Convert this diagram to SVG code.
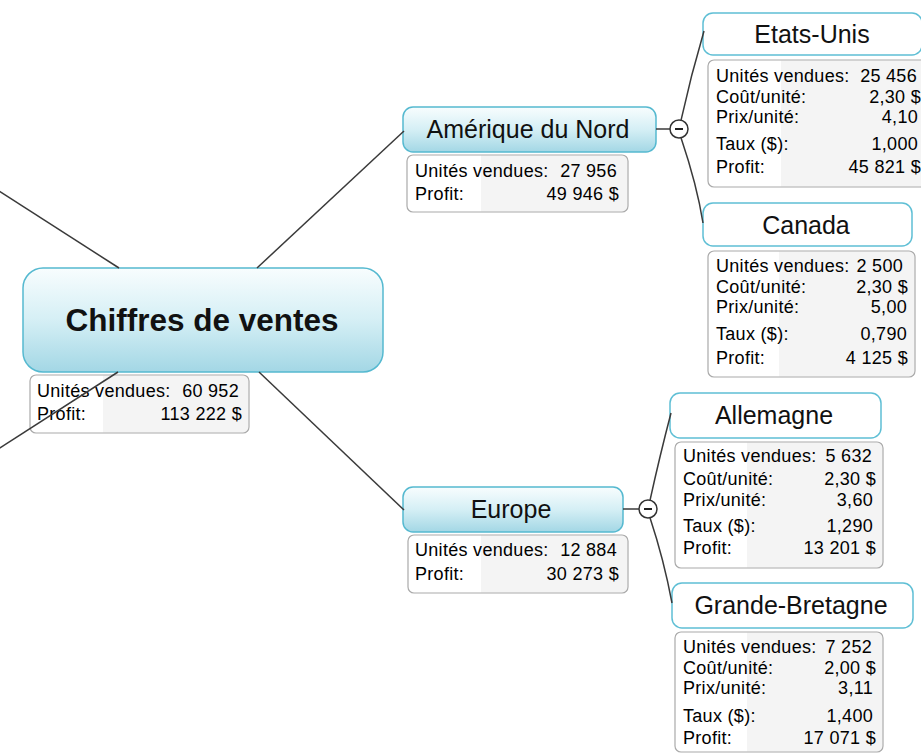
<svg xmlns="http://www.w3.org/2000/svg" width="921" height="754" viewBox="0 0 921 754">
<defs>
<linearGradient id="topicGrad" x1="0" y1="0" x2="0" y2="1">
<stop offset="0" stop-color="#f8fdfe"/>
<stop offset="0.5" stop-color="#d5eff5"/>
<stop offset="1" stop-color="#a3d7e5"/>
</linearGradient>
</defs>
<style>
.topic{fill:url(#topicGrad);stroke:#55b9d0;stroke-width:1.5}
.sub{fill:#ffffff;stroke:#5fbfd5;stroke-width:1.5}
.box{fill:none;stroke:#aaaaaa;stroke-width:1.2}
.boxbg{fill:#ffffff}
.gray{fill:#f4f4f4}
.conn{fill:none;stroke:#3a3a3a;stroke-width:1.5}
.btn{fill:#ffffff;stroke:#333333;stroke-width:1.5}
.minus{stroke:#222222;stroke-width:2}
.title{font-family:"Liberation Sans",Arial,sans-serif;font-size:25px;fill:#111111;text-anchor:middle}
.main{font-family:"Liberation Sans",Arial,sans-serif;font-size:31.5px;font-weight:bold;fill:#111111;text-anchor:middle}
.lbl{font-family:"Liberation Sans",Arial,sans-serif;font-size:18px;letter-spacing:0.3px;fill:#000000}
.val{font-family:"Liberation Sans",Arial,sans-serif;font-size:18px;letter-spacing:0.3px;fill:#000000;text-anchor:end}
</style>

<g id="central">
<rect class="topic" x="23" y="268" width="360" height="104" rx="20"/>
<text class="main" x="202" y="331">Chiffres de ventes</text>
<rect class="boxbg" x="30" y="375" width="219" height="58" rx="6"/>
<path class="gray" d="M103 375.6 H243 A5.4 5.4 0 0 1 248.4 381 V427 A5.4 5.4 0 0 1 243 432.4 H103 Z"/>
<rect class="box" x="30" y="375" width="219" height="58" rx="6"/>
<text class="lbl" x="37" y="397">Unités vendues:</text><text class="val" x="239" y="397">60 952</text>
<text class="lbl" x="37" y="420">Profit:</text><text class="val" x="242" y="420">113 222 $</text>
</g>

<g id="amerique">
<rect class="topic" x="403" y="107" width="253" height="45" rx="10"/>
<text class="title" x="528" y="138">Amérique du Nord</text>
<rect class="boxbg" x="407" y="155" width="221" height="57" rx="6"/>
<path class="gray" d="M481 155.6 H622 A5.4 5.4 0 0 1 627.4 161 V206 A5.4 5.4 0 0 1 622 211.4 H481 Z"/>
<rect class="box" x="407" y="155" width="221" height="57" rx="6"/>
<text class="lbl" x="415" y="177">Unités vendues:</text><text class="val" x="617" y="177">27 956</text>
<text class="lbl" x="415" y="200">Profit:</text><text class="val" x="619" y="200">49 946 $</text>
<circle class="btn" cx="679" cy="129" r="9"/>
<line class="minus" x1="675" y1="129" x2="683" y2="129"/>
</g>

<g id="europe">
<rect class="topic" x="403" y="487" width="220" height="45" rx="10"/>
<text class="title" x="511" y="518">Europe</text>
<rect class="boxbg" x="408" y="535" width="220" height="58" rx="6"/>
<path class="gray" d="M481 535.6 H622 A5.4 5.4 0 0 1 627.4 541 V587 A5.4 5.4 0 0 1 622 592.4 H481 Z"/>
<rect class="box" x="408" y="535" width="220" height="58" rx="6"/>
<text class="lbl" x="415" y="556">Unités vendues:</text><text class="val" x="617" y="556">12 884</text>
<text class="lbl" x="415" y="580">Profit:</text><text class="val" x="619" y="580">30 273 $</text>
<circle class="btn" cx="648" cy="509" r="9"/>
<line class="minus" x1="644" y1="509" x2="652" y2="509"/>
</g>

<g id="etats-unis">
<rect class="sub" x="703" y="13" width="219" height="42" rx="10"/>
<text class="title" x="812" y="43">Etats-Unis</text>
<rect class="boxbg" x="708" y="60" width="220" height="127" rx="6"/>
<path class="gray" d="M781 60.6 H922 A5.4 5.4 0 0 1 927.4 66 V181 A5.4 5.4 0 0 1 922 186.4 H781 Z"/>
<rect class="box" x="708" y="60" width="220" height="127" rx="6"/>
<text class="lbl" x="716" y="82">Unités vendues:</text><text class="val" x="917" y="82">25 456</text>
<text class="lbl" x="716" y="103">Coût/unité:</text><text class="val" x="921" y="103">2,30 $</text>
<text class="lbl" x="716" y="123">Prix/unité:</text><text class="val" x="918" y="123">4,10</text>
<text class="lbl" x="716" y="150">Taux ($):</text><text class="val" x="918" y="150">1,000</text>
<text class="lbl" x="716" y="173">Profit:</text><text class="val" x="921" y="173">45 821 $</text>
</g>

<g id="canada">
<rect class="sub" x="703" y="203" width="209" height="43" rx="10"/>
<text class="title" x="806" y="234">Canada</text>
<rect class="boxbg" x="708" y="251" width="207" height="126" rx="6"/>
<path class="gray" d="M779 251.6 H909 A5.4 5.4 0 0 1 914.4 257 V371 A5.4 5.4 0 0 1 909 376.4 H779 Z"/>
<rect class="box" x="708" y="251" width="207" height="126" rx="6"/>
<text class="lbl" x="716" y="272">Unités vendues:</text><text class="val" x="903" y="272">2 500</text>
<text class="lbl" x="716" y="293">Coût/unité:</text><text class="val" x="908" y="293">2,30 $</text>
<text class="lbl" x="716" y="313">Prix/unité:</text><text class="val" x="907" y="313">5,00</text>
<text class="lbl" x="716" y="340">Taux ($):</text><text class="val" x="907" y="340">0,790</text>
<text class="lbl" x="716" y="364">Profit:</text><text class="val" x="908" y="364">4 125 $</text>
</g>

<g id="allemagne">
<rect class="sub" x="670" y="393" width="211" height="45" rx="10"/>
<text class="title" x="774" y="424">Allemagne</text>
<rect class="boxbg" x="675" y="442" width="208" height="126" rx="6"/>
<path class="gray" d="M747 442.6 H877 A5.4 5.4 0 0 1 882.4 448 V562 A5.4 5.4 0 0 1 877 567.4 H747 Z"/>
<rect class="box" x="675" y="442" width="208" height="126" rx="6"/>
<text class="lbl" x="683" y="462">Unités vendues:</text><text class="val" x="872" y="462">5 632</text>
<text class="lbl" x="683" y="485">Coût/unité:</text><text class="val" x="876" y="485">2,30 $</text>
<text class="lbl" x="683" y="506">Prix/unité:</text><text class="val" x="873" y="506">3,60</text>
<text class="lbl" x="683" y="532">Taux ($):</text><text class="val" x="873" y="532">1,290</text>
<text class="lbl" x="683" y="554">Profit:</text><text class="val" x="876" y="554">13 201 $</text>
</g>

<g id="grande-bretagne">
<rect class="sub" x="672" y="583" width="241" height="45" rx="10"/>
<text class="title" x="791" y="614">Grande-Bretagne</text>
<rect class="boxbg" x="675" y="632" width="208" height="120" rx="6"/>
<path class="gray" d="M747 632.6 H877 A5.4 5.4 0 0 1 882.4 638 V746 A5.4 5.4 0 0 1 877 751.4 H747 Z"/>
<rect class="box" x="675" y="632" width="208" height="120" rx="6"/>
<text class="lbl" x="683" y="653">Unités vendues:</text><text class="val" x="872" y="653">7 252</text>
<text class="lbl" x="683" y="674">Coût/unité:</text><text class="val" x="876" y="674">2,00 $</text>
<text class="lbl" x="683" y="694">Prix/unité:</text><text class="val" x="873" y="694">3,11</text>
<text class="lbl" x="683" y="722">Taux ($):</text><text class="val" x="873" y="722">1,400</text>
<text class="lbl" x="683" y="744">Profit:</text><text class="val" x="876" y="744">17 071 $</text>
</g>

<g id="connectors">
<path class="conn" d="M-5 188.5 L119 268"/>
<path class="conn" d="M118 372 L-5 451"/>
<path class="conn" d="M257 268 L404 131"/>
<path class="conn" d="M259 372 L404 510"/>
<path class="conn" d="M656 129 L670 129"/>
<path class="conn" d="M681 120.3 Q691 75 704 31"/>
<path class="conn" d="M681 137.7 Q697 185 703 223"/>
<path class="conn" d="M623 509 L639 509"/>
<path class="conn" d="M650 500.3 Q660 455 671 413"/>
<path class="conn" d="M650 517.7 Q664 560 672 603"/>
</g>
</svg>
